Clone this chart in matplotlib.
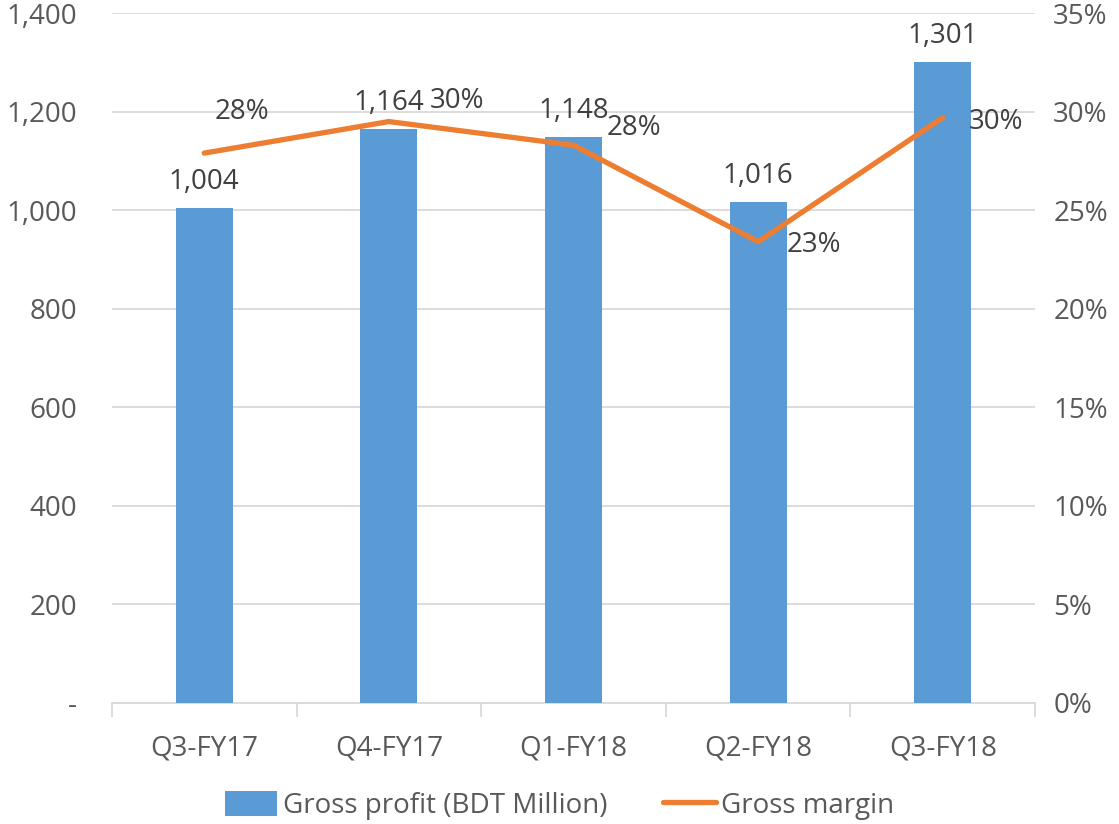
import matplotlib.pyplot as plt
import numpy as np

# chart data
quarters = ['Q3-FY17', 'Q4-FY17', 'Q1-FY18', 'Q2-FY18', 'Q3-FY18']
gross_profit = [1004, 1164, 1148, 1016, 1301]
gross_margin = [27.9, 29.5, 28.3, 23.4, 29.7]
margin_labels = ['28%', '30%', '28%', '23%', '30%']

# label offsets (pixels) for the margin labels
margin_offsets = [(38, 41), (68, 21), (60, 17), (56, -3), (53, -4)]

plt.rcParams['font.family'] = ['Open Sans', 'DejaVu Sans']
txt = '#595959'
fs = 20

fig = plt.figure(figsize=(11.19, 8.24), dpi=100)
ax = fig.add_axes([0.100, 0.147, 0.825, 0.837])
ax2 = ax.twinx()

x = np.arange(len(quarters))
bars = ax.bar(x, gross_profit, width=0.31, color='#5B9BD5', zorder=3,
              label='Gross profit (BDT Million)')
ax.set_ylim(0, 1400)
ax.set_xlim(-0.5, len(quarters) - 0.5)
ax.set_yticks(range(0, 1401, 200))
ax.set_yticklabels(['-'] + [f'{v:,}' for v in range(200, 1401, 200)])
ax.grid(axis='y', color='#d9d9d9', lw=1.3, zorder=0)
ax.set_axisbelow(True)

ax.set_xticks(x)
ax.set_xticklabels(quarters)
ax.set_xticks(np.arange(-0.5, len(quarters)), minor=True)
ax.tick_params(axis='x', which='major', length=0, pad=23, labelsize=fs, labelcolor=txt)
ax.tick_params(axis='x', which='minor', length=10, color='#d9d9d9', width=1.3)
ax.tick_params(axis='y', length=0, pad=25, labelsize=fs, labelcolor=txt)

for s in ['top', 'left', 'right']:
    ax.spines[s].set_visible(False)
    ax2.spines[s].set_visible(False)
ax.spines['bottom'].set_color('#d9d9d9')
ax.spines['bottom'].set_linewidth(1.3)
ax2.spines['bottom'].set_visible(False)

for xi, v in zip(x, gross_profit):
    ax.annotate(f'{v:,}', (xi, v), xytext=(0, 26), textcoords='offset pixels',
                ha='center', va='center', fontsize=fs, color='#404040')

line, = ax2.plot(x, gross_margin, color='#ED7D31', lw=3.8, solid_capstyle='round',
                 label='Gross margin', zorder=4)
ax2.set_ylim(0, 35)
ax2.set_yticks(range(0, 36, 5))
ax2.set_yticklabels([f'{v}%' for v in range(0, 36, 5)])
ax2.tick_params(axis='y', length=0, pad=13, labelsize=fs, labelcolor=txt)

for xi, v, lab, off in zip(x, gross_margin, margin_labels, margin_offsets):
    ax2.annotate(lab, (xi, v), xytext=off, textcoords='offset pixels',
                 ha='center', va='center', fontsize=fs, color='#404040')

fig.legend(handles=[bars, line], loc='lower center', bbox_to_anchor=(0.5, -0.025),
           ncol=2, frameon=False, fontsize=fs, labelcolor=txt,
           handlelength=1.9, handleheight=1.0, handletextpad=0.2, columnspacing=2.0)

fig.savefig('out.png', dpi=100)
